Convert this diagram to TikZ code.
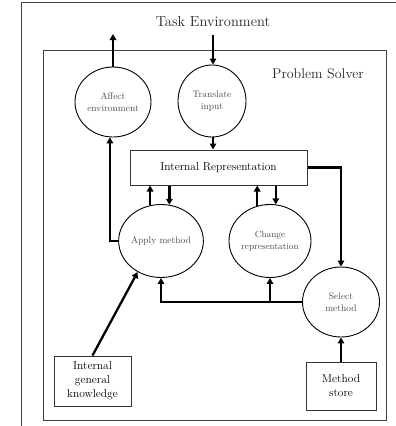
\documentclass[tikz,border=0pt]{standalone}
\usetikzlibrary{arrows.meta,shapes.geometric}
\begin{document}
\begin{tikzpicture}[x=1pt,y=-1pt,
  frame/.style={draw=black!75,line width=1pt},
  proc/.style={ellipse,draw=black,line width=0.9pt,inner sep=0pt,align=center,
    font=\fontsize{9.5}{12}\selectfont,text=black!70},
  store/.style={rectangle,draw=black!80,line width=1pt,inner sep=0pt,align=center,
    font=\fontsize{11.5}{14}\selectfont},
  flow/.style={line width=2.3pt,-{Triangle[length=6pt,width=6.5pt]}},
  title/.style={font=\fontsize{14.5}{17}\selectfont,text=black!85}]
\useasboundingbox (0,0) rectangle (396,426);
% frames
\draw[frame] (21,430) -- (21,2.5) -- (400,2.5);
\draw[frame] (43.5,50.5) rectangle (386,420);
\node[title] (task) at (213,22) {Task Environment};
\node[title,font=\fontsize{14}{17}\selectfont] (solver) at (318,74) {Problem Solver};
% processes
\node[proc,minimum width=76pt,minimum height=70pt] (affect) at (113,102) {Affect\\environment};
\node[proc,minimum width=68pt,minimum height=72pt] (translate) at (212,101) {Translate\\input};
\node[store,minimum width=177pt,minimum height=35pt] (ir) at (218.5,167.5) {Internal Representation};
\node[proc,minimum width=81pt,minimum height=73pt] (apply) at (161,241) {Apply method};
\node[proc,minimum width=82pt,minimum height=73pt,font=\fontsize{9}{12}\selectfont] (change) at (270,241) {Change\\representation};
\node[proc,minimum width=77pt,minimum height=70pt] (select) at (341,302) {Select\\method};
\node[store,minimum width=77pt,minimum height=50pt] (igk) at (92.5,381) {Internal\\general\\knowledge};
\node[store,minimum width=70pt,minimum height=48pt] (ms) at (341,386) {Method\\store};
% connectors
\coordinate (affout) at (113,34);
\coordinate (taskin) at (213,35);
\draw[flow] (affect.north) -- (affout);
\draw[flow] (taskin) -- (taskin |- translate.north);
\draw[flow] (taskin |- translate.south) -- (taskin |- ir.north);
\draw[flow] (apply.107) -- (apply.107 |- ir.south);
\draw[flow] (apply.77 |- ir.south) -- (apply.77);
\draw[flow] (change.110) -- (change.110 |- ir.south);
\draw[flow] (change.81 |- ir.south) -- (change.81);
\draw[flow] (ir.east) -| (select.north);
\draw[flow] (apply.west) -| (affect.265);
\draw[flow] (select.west) -| (apply.south);
\draw[flow] (select.west -| change.south) -- (change.south);
\draw[flow] (igk.north) -- (apply.233);
\draw[flow] (ms.north) -- (select.south);
\end{tikzpicture}
\end{document}
